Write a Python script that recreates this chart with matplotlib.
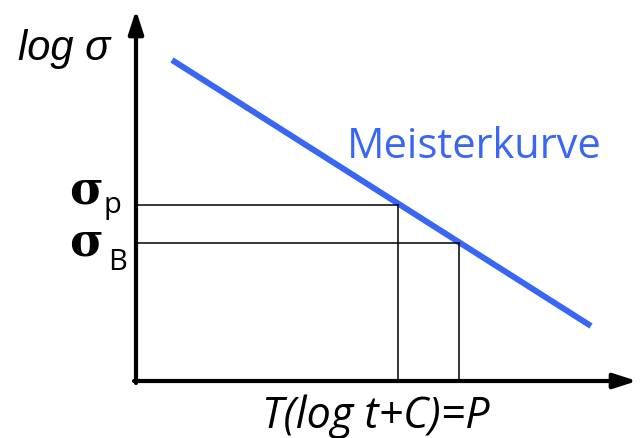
import matplotlib.pyplot as plt

# master curve end points (x = log-time parameter, y = log stress)
curve_x = [36, 455]
curve_y = [321, 55]

# the two stress levels and their parameter values on the curve
level_names = ['p', 'B']
level_y = [176, 138]
level_x = [262, 323]

x_end = 501
y_end = 371

fig = plt.figure(figsize=(6.43, 4.38), dpi=100)
ax = fig.add_axes([0, 0, 1, 1])
ax.set_xlim(-136, 507)
ax.set_ylim(-57, 381)
ax.axis('off')

# coordinate axes with arrow heads
arrow = dict(arrowstyle='-|>,head_length=1.4,head_width=0.45', lw=3, color='black',
             shrinkA=0, shrinkB=0)
ax.annotate('', xy=(x_end, 0), xytext=(-2, 0), arrowprops=arrow)
ax.annotate('', xy=(0, y_end), xytext=(0, -2), arrowprops=arrow)

# master curve
ax.plot(curve_x, curve_y, color='#3A66F5', lw=4.3, solid_capstyle='butt')
ax.text(211, 223, 'Meisterkurve', color='#3A66F5', fontsize=30,
        family='Open Sans', va='baseline', ha='left')

# reading lines for the stress levels
for yy, xx in zip(level_y, level_x):
    ax.plot([0, xx], [yy, yy], color='black', lw=1.1)
    ax.plot([xx, xx], [yy, 0], color='black', lw=1.1)

# sigma labels with subscripts
sig_base = [177, 125]
sub_pos = [(-32, 168), (-28, 111)]
for name, sb, (sx, sy) in zip(level_names, sig_base, sub_pos):
    ax.text(-50, sb, '\u03c3', fontsize=33, family='DejaVu Serif',
            fontweight='bold', ha='center', va='baseline')
    ax.text(sx, sy, name, fontsize=21, family='Open Sans',
            ha='left', va='baseline')

ax.text(-118, 321, 'log \u03c3', fontsize=30, family='Liberation Sans',
        style='italic', ha='left', va='baseline')
ax.text(126, -47, 'T(log t+C)=P', fontsize=31, family='Open Sans',
        style='italic', ha='left', va='baseline')

fig.savefig('out.png', dpi=100)
